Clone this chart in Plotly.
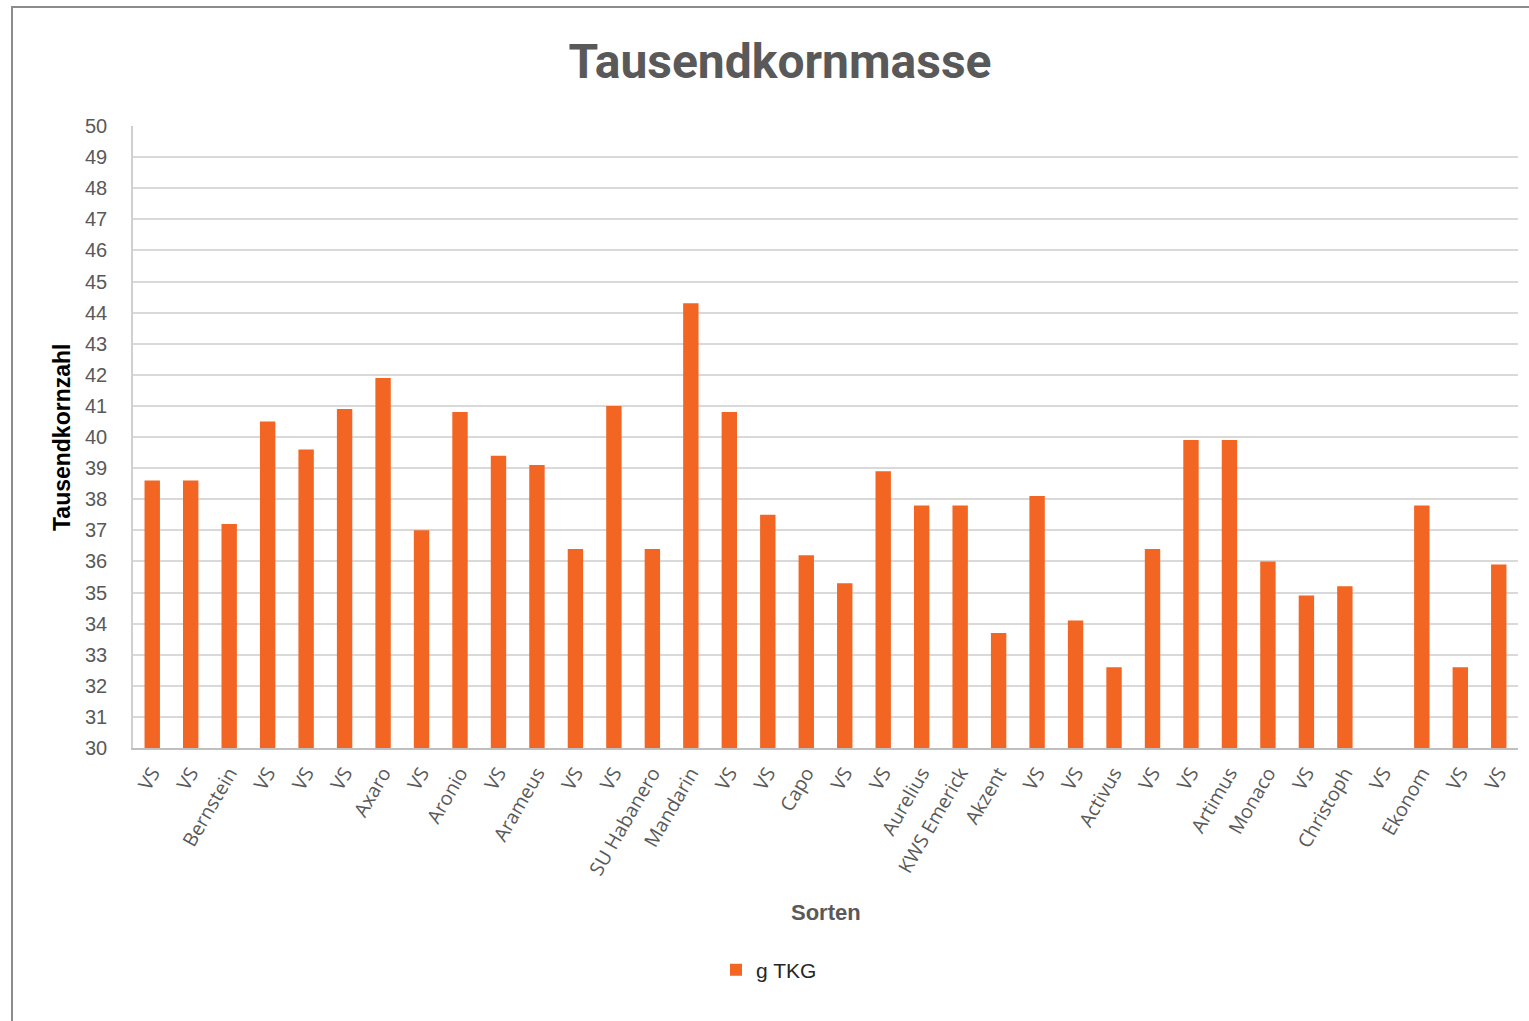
import plotly.graph_objects as go

sorten = ["VS", "VS", "Bernstein", "VS", "VS", "VS", "Axaro", "VS", "Aronio", "VS",
          "Arameus", "VS", "VS", "SU Habanero", "Mandarin", "VS", "VS", "Capo", "VS", "VS",
          "Aurelius", "KWS Emerick", "Akzent", "VS", "VS", "Activus", "VS", "VS", "Artimus",
          "Monaco", "VS", "Christoph", "VS", "Ekonom", "VS", "VS"]
g_tkg = [38.6, 38.6, 37.2, 40.5, 39.6, 40.9, 41.9, 37.0, 40.8, 39.4,
         39.1, 36.4, 41.0, 36.4, 44.3, 40.8, 37.5, 36.2, 35.3, 38.9,
         37.8, 37.8, 33.7, 38.1, 34.1, 32.6, 36.4, 39.9, 39.9,
         36.0, 34.9, 35.2, None, 37.8, 32.6, 35.9]
y_ticks = list(range(30, 51))
positions = list(range(len(sorten)))

W, H = 1529, 1021
L, R, T, B = 133, 11, 126, 273
pw, ph = W - L - R, H - T - B

def px_to_paper_x(px):
    return (px - L) / pw

def px_to_paper_y(py):
    return (H - B - py) / ph

GRAY = "#595959"
ORANGE = "#F26522"

fig = go.Figure()
fig.add_trace(go.Bar(
    x=positions, y=g_tkg, name="g TKG",
    marker=dict(color=ORANGE, line=dict(width=0)),
))

fig.update_layout(
    width=W, height=H, autosize=False,
    margin=dict(l=L, r=R, t=T, b=B, pad=0),
    paper_bgcolor="white", plot_bgcolor="white",
    bargap=0.6,
    title=dict(text="Tausendkornmasse", x=780 / W, xref="container", xanchor="center",
               y=1 - 61 / H, yref="container", yanchor="middle",
               font=dict(family="Roboto", size=48, color=GRAY, weight="bold")),
    showlegend=True,
    legend=dict(orientation="h", x=px_to_paper_x(769), xanchor="center",
                y=px_to_paper_y(970), yanchor="middle",
                font=dict(family="Liberation Sans", size=21, color="#262626"),
                itemwidth=30),
    xaxis=dict(
        tickmode="array", tickvals=positions, ticktext=sorten,
        range=[-0.5, len(sorten) - 0.5],
        tickangle=-60, showgrid=False, showline=True, linecolor="#bfbfbf", linewidth=2,
        ticks="", tickfont=dict(family="Open Sans", size=19.5, color=GRAY),
        ticklabelstandoff=4,
    ),
    yaxis=dict(
        range=[30, 50], tickmode="array", tickvals=y_ticks,
        showgrid=True, gridcolor="#d9d9d9", gridwidth=1.5,
        showline=True, linecolor="#d0d0d0", linewidth=1.5,
        ticks="", tickfont=dict(family="Liberation Sans", size=20, color=GRAY),
        ticklabelstandoff=20, zeroline=False,
    ),
    annotations=[
        dict(text="<b>Sorten</b>", x=px_to_paper_x(826), y=px_to_paper_y(913),
             xref="paper", yref="paper", xanchor="center", yanchor="middle",
             showarrow=False, font=dict(family="Liberation Sans", size=22, color=GRAY)),
        dict(text="<b>Tausendkornzahl</b>", x=px_to_paper_x(62), y=px_to_paper_y(438),
             xref="paper", yref="paper", xanchor="center", yanchor="middle", textangle=-90,
             showarrow=False, font=dict(family="Liberation Sans", size=23, color="black")),
    ],
    shapes=[
        dict(type="rect", xref="paper", yref="paper",
             x0=px_to_paper_x(12), x1=px_to_paper_x(1540),
             y0=px_to_paper_y(1030), y1=px_to_paper_y(7),
             line=dict(color="#8c8c8c", width=2), fillcolor="rgba(0,0,0,0)", layer="below"),
    ],
)

fig.write_html("out.html", config={"displayModeBar": False},
               post_script="document.body.style.margin='0';document.body.style.overflow='hidden';")
